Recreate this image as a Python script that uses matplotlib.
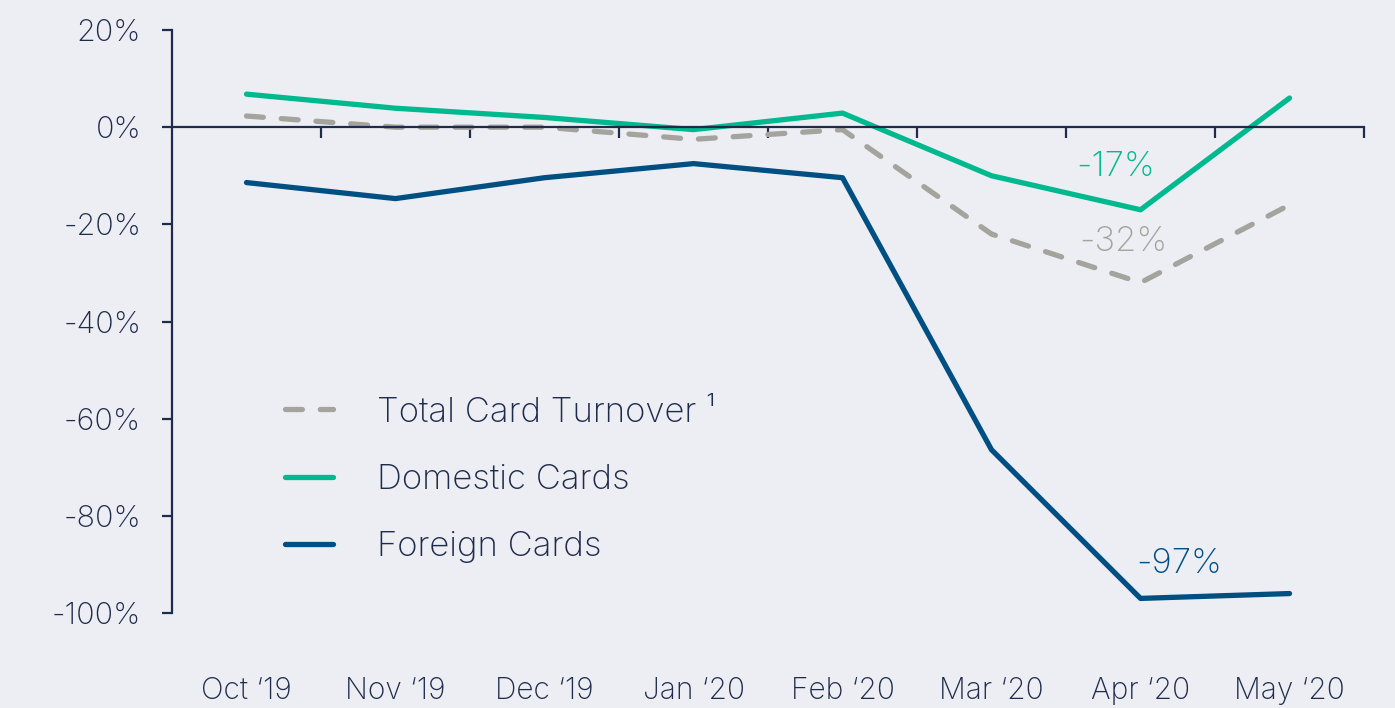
import matplotlib.pyplot as plt

# monthly change in card turnover, % vs. previous year
months = ["Oct \u201819", "Nov \u201819", "Dec \u201819", "Jan \u201820",
          "Feb \u201820", "Mar \u201820", "Apr \u201820", "May \u201820"]
total_cards = [2.3, 0.0, 0.0, -2.5, -0.5, -22, -32, -16]
domestic_cards = [6.8, 3.9, 2.0, -0.5, 2.9, -10, -17, 6.0]
foreign_cards = [-11.4, -14.7, -10.4, -7.5, -10.4, -66.4, -97, -96]

y_ticks = [20, 0, -20, -40, -60, -80, -100]

BG = "#eceef3"
AXIS = "#1f2b4b"
GREEN = "#00b98e"
BLUE = "#004f82"
GREY = "#a4a39d"

plt.rcParams["font.family"] = ["Inter", "DejaVu Sans"]
plt.rcParams["font.weight"] = "light"

fig = plt.figure(figsize=(13.95, 7.08), dpi=100, facecolor=BG)
ax = fig.add_axes([0.1233, 0.1342, 0.8545, 0.8234], facecolor=BG)

x = [i + 0.5 for i in range(len(months))]
ax.plot(x, total_cards, color=GREY, lw=3.8, dashes=(3.2, 3.4),
        dash_capstyle="round", label="Total Card Turnover \u00b9")
ax.plot(x, domestic_cards, color=GREEN, lw=3.8, solid_capstyle="round",
        label="Domestic Cards")
ax.plot(x, foreign_cards, color=BLUE, lw=3.8, solid_capstyle="round",
        label="Foreign Cards")

ax.set_xlim(0, len(months))
ax.set_ylim(-100, 20)

for side in ["top", "right"]:
    ax.spines[side].set_visible(False)
ax.spines["bottom"].set_position(("data", 0))
ax.spines["left"].set_bounds(-100, 20)
for side in ["left", "bottom"]:
    ax.spines[side].set_color(AXIS)
    ax.spines[side].set_linewidth(1.6)

ax.set_xticks(range(1, len(months) + 1))
ax.set_xticklabels([])
ax.tick_params(axis="x", direction="out", length=8, width=1.6, color=AXIS)
ax.set_yticks(y_ticks)
ax.set_yticklabels([f"{v}%" for v in y_ticks])
ax.tick_params(axis="y", direction="out", length=7.2, width=1.6, color=AXIS,
               labelsize=22, labelcolor=AXIS, pad=15)

# month labels sit below the plot area, not on the zero line
for xi, m in zip(x, months):
    ax.text(xi, -0.133, m, transform=ax.get_xaxis_transform(), ha="center",
            va="center", fontsize=21.5, color=AXIS)

# value callouts for April
apr = months.index("Apr \u201820")
ax.annotate(f"{domestic_cards[apr]:.0f}%", (x[apr], domestic_cards[apr]),
            xytext=(-25, 43), textcoords="offset pixels", ha="center",
            va="center", fontsize=25, color=GREEN)
ax.annotate(f"{total_cards[apr]:.0f}%", (x[apr], total_cards[apr]),
            xytext=(-17, 41), textcoords="offset pixels", ha="center",
            va="center", fontsize=25, color=GREY)
ax.annotate(f"{foreign_cards[apr]:.0f}%", (x[apr], foreign_cards[apr]),
            xytext=(39, 34), textcoords="offset pixels", ha="center",
            va="center", fontsize=25, color=BLUE)

leg = ax.legend(loc="upper left", bbox_to_anchor=(0.083, 0.395), frameon=False,
                borderaxespad=0, fontsize=25, handlelength=1.4,
                handletextpad=1.25, labelspacing=1.02)
for t in leg.get_texts():
    t.set_color(AXIS)

fig.savefig("out.png", dpi=100, facecolor=BG)
